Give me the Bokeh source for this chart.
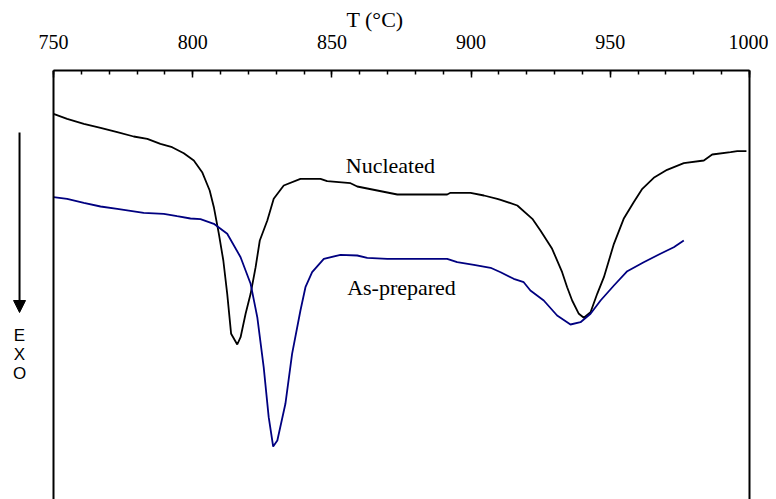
from bokeh.plotting import figure
from bokeh.models import (Range1d, LinearAxis, SingleIntervalTicker, FixedTicker,
                          Label, Arrow, NormalHead, Span)
from bokeh.embed import file_html
from bokeh.resources import INLINE

# Temperature (°C) and DTA signal (arbitrary units)
nuc_T = [750.0, 754.9, 760.9, 766.9, 772.9, 778.8, 783.7, 788.4, 792.6, 796.8,
         800.4, 803.4, 806.1, 807.6, 809.4, 811.0, 812.4, 813.8, 816.0, 817.2,
         819.0, 820.8, 822.6, 824.1, 826.8, 829.1, 832.7, 838.7, 845.9, 848.3,
         856.7, 859.1, 866.3, 873.5, 891.4, 892.6, 899.8, 904.6, 909.4, 910.6,
         916.6, 922.0, 924.9, 929.1, 932.7, 934.5, 936.3, 938.7, 940.5, 942.9,
         945.3, 947.7, 951.3, 954.8, 958.4, 961.5, 965.6, 970.4, 976.4, 983.6,
         986.6, 993.2, 995.6, 998.9]
nuc_S = [385.7, 380.7, 375.7, 371.7, 367.3, 363.0, 360.7, 355.7, 352.3, 346.3,
         339.0, 327.3, 309.0, 292.3, 265.7, 239.0, 205.7, 165.7, 155.0, 162.3,
         185.7, 205.7, 232.3, 259.0, 279.0, 300.7, 314.0, 320.7, 320.7, 318.3,
         316.3, 313.0, 309.0, 305.0, 305.0, 306.7, 306.7, 304.0, 300.7, 299.7,
         294.0, 280.7, 269.0, 250.7, 227.3, 212.3, 199.0, 185.7, 181.7, 187.3,
         205.7, 222.3, 255.7, 280.7, 297.3, 310.7, 321.7, 329.7, 336.3, 339.0,
         345.0, 347.3, 348.3, 348.3]

asp_T = [750.0, 754.9, 760.9, 766.9, 772.9, 782.4, 789.6, 794.4, 799.2, 802.8,
         807.6, 812.4, 817.2, 820.8, 823.2, 825.5, 827.3, 828.9, 830.4, 833.3,
         835.7, 838.7, 840.5, 842.9, 847.1, 853.1, 859.1, 862.7, 869.9, 891.4,
         895.0, 901.0, 907.0, 910.6, 915.3, 918.9, 921.3, 926.1, 930.9, 935.7,
         939.3, 942.9, 946.5, 951.3, 956.1, 962.0, 968.0, 972.8, 976.4]
asp_S = [302.3, 300.7, 296.7, 293.0, 290.7, 286.7, 285.7, 283.3, 281.0, 280.3,
         275.7, 265.7, 242.3, 215.7, 182.3, 132.3, 82.3, 53.0, 59.0, 95.7,
         145.7, 189.0, 212.3, 227.3, 240.7, 244.7, 244.0, 241.7, 240.7, 240.7,
         237.3, 234.7, 231.7, 227.3, 220.7, 217.3, 209.0, 199.0, 184.0, 175.0,
         177.3, 185.7, 199.0, 214.0, 228.3, 237.3, 245.7, 252.3, 259.0]

T_min, T_max = 750, 1000
x_ticks_interval = 50
series_names = ["Nucleated", "As-prepared"]
exo_letters = ["E", "X", "O"]

serif = "Liberation Serif"
sans = "Liberation Sans"

W, H = 768, 499
border_top, border_right = 70, 19
px_per_deg = (W - border_right - 53) / (T_max - T_min)
x_left = T_min - 53 / px_per_deg   # room on the left for the EXO arrow

p = figure(width=W, height=H, output_backend="svg", toolbar_location=None,
           x_range=Range1d(x_left, T_max), y_range=Range1d(0, 429),
           x_axis_location=None, y_axis_location=None,
           min_border_left=0, min_border_right=border_right,
           min_border_top=border_top, min_border_bottom=0)
p.outline_line_color = None
p.grid.visible = False
p.background_fill_color = "white"
p.border_fill_color = "white"

# top axis (only over 750-1000)
top = LinearAxis(ticker=SingleIntervalTicker(interval=x_ticks_interval, num_minor_ticks=5),
                 axis_label="T (°C)", bounds=(T_min, T_max))
top.axis_line_width = 2
top.axis_line_color = "black"
top.major_tick_in = 7
top.major_tick_out = 0
top.minor_tick_in = 4
top.minor_tick_out = 0
top.major_tick_line_width = 1.5
top.minor_tick_line_width = 1.5
top.major_label_text_font = serif
top.major_label_text_font_size = "20px"
top.major_label_text_color = "black"
top.major_label_standoff = 22
top.axis_label_text_font = serif
top.axis_label_text_font_size = "22px"
top.axis_label_text_font_style = "normal"
top.axis_label_text_color = "black"
top.axis_label_standoff = 0
p.add_layout(top, "above")

right = LinearAxis(ticker=FixedTicker(ticks=[]))
right.axis_line_width = 2
right.axis_line_color = "black"
right.major_tick_line_color = None
right.minor_tick_line_color = None
right.major_label_text_font_size = "0px"
p.add_layout(right, "right")

# left frame line at T = 750
p.add_layout(Span(location=T_min, dimension="height", line_color="black", line_width=2))

p.line(nuc_T, nuc_S, line_color="black", line_width=1.8)
p.line(asp_T, asp_S, line_color="#000080", line_width=1.8)

p.add_layout(Label(x=871, y=334, text=series_names[0], text_font=serif,
                   text_font_size="22px", text_align="center", text_baseline="middle",
                   text_color="black"))
p.add_layout(Label(x=875, y=212, text=series_names[1], text_font=serif,
                   text_font_size="22px", text_align="center", text_baseline="middle",
                   text_color="black"))

# EXO arrow on the left of the frame
arrow_T = 737.8
p.add_layout(Arrow(x_start=arrow_T, y_start=367, x_end=arrow_T, y_end=187,
                   line_width=2, line_color="black",
                   end=NormalHead(size=12, fill_color="black", line_color="black")))
for letter, yv in zip(exo_letters, [164, 145, 126]):
    p.add_layout(Label(x=arrow_T, y=yv, text=letter, text_font=sans,
                       text_font_size="17px", text_align="center",
                       text_baseline="middle", text_color="black"))

open("out.html", "w").write(file_html(p, INLINE))
